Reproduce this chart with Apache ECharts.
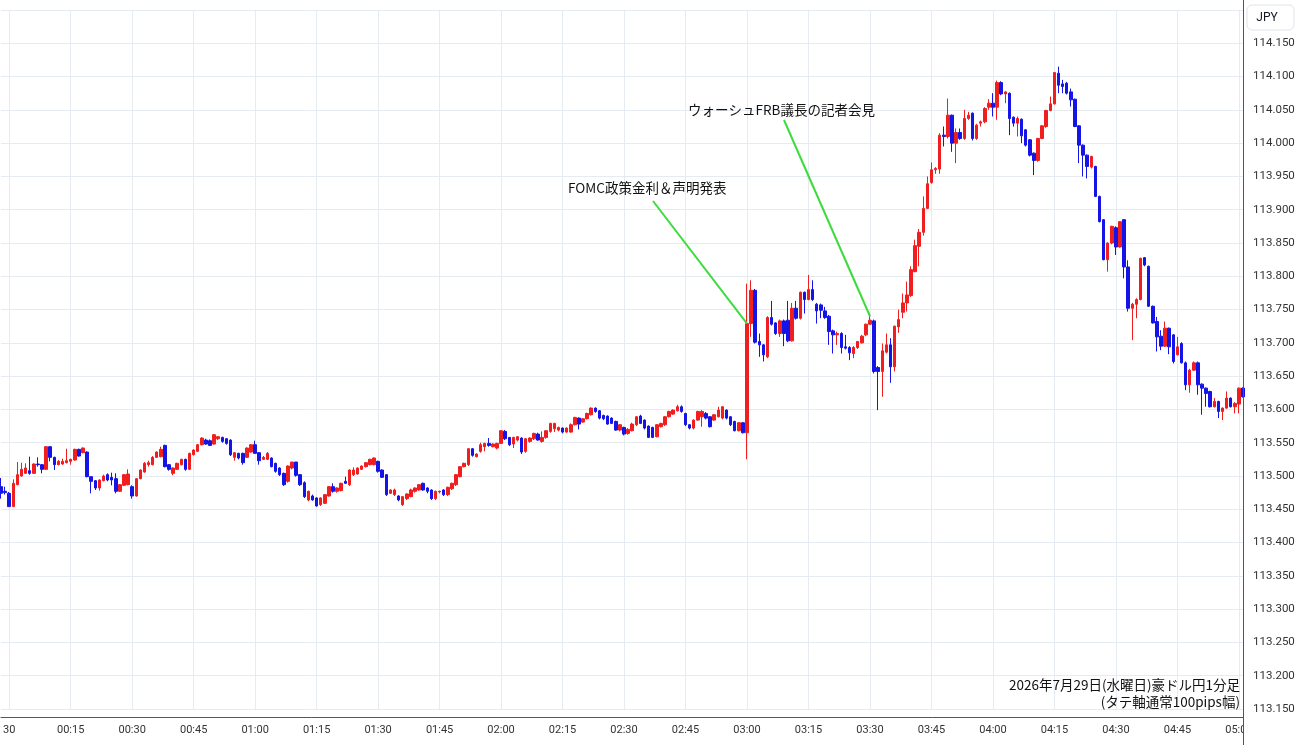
<!DOCTYPE html>
<html>
<head>
<meta charset="utf-8">
<script src="https://cdn.jsdelivr.net/npm/echarts@6/dist/echarts.min.js"></script>
<style>
  html, body { margin: 0; padding: 0; background: #fff; }
  #chart { width: 1300px; height: 745px; }
</style>
</head>
<body>
<div id="chart"></div>
<script>
// 1-minute AUD/JPY candles, 23:58 .. 05:01 (one value per minute)
const opens = [
  113.484, 113.477, 113.474, 113.454, 113.487, 113.500, 113.504, 113.508, 113.504, 113.518,
  113.517, 113.510, 113.544, 113.528, 113.517, 113.518, 113.520, 113.522, 113.524, 113.540,
  113.535, 113.536, 113.499, 113.493, 113.482, 113.493, 113.502, 113.498, 113.496, 113.477,
  113.486, 113.487, 113.484, 113.470, 113.496, 113.506, 113.517, 113.517, 113.528, 113.529,
  113.546, 113.517, 113.504, 113.510, 113.517, 113.525, 113.510, 113.532, 113.537, 113.547,
  113.554, 113.553, 113.548, 113.556, 113.558, 113.556, 113.554, 113.528, 113.534, 113.534,
  113.528, 113.536, 113.547, 113.535, 113.525, 113.525, 113.527, 113.519, 113.512, 113.504,
  113.492, 113.512, 113.521, 113.502, 113.490, 113.464, 113.470, 113.467, 113.457, 113.459,
  113.470, 113.484, 113.477, 113.478, 113.492, 113.487, 113.502, 113.503, 113.510, 113.514,
  113.517, 113.517, 113.522, 113.509, 113.502, 113.474, 113.472, 113.470, 113.457, 113.466,
  113.469, 113.477, 113.479, 113.489, 113.482, 113.479, 113.466, 113.476, 113.479, 113.472,
  113.481, 113.487, 113.499, 113.514, 113.517, 113.541, 113.529, 113.537, 113.544, 113.549,
  113.544, 113.542, 113.549, 113.567, 113.558, 113.548, 113.554, 113.557, 113.537, 113.552,
  113.556, 113.563, 113.552, 113.558, 113.567, 113.571, 113.569, 113.572, 113.566, 113.566,
  113.577, 113.587, 113.581, 113.586, 113.592, 113.602, 113.598, 113.591, 113.590, 113.587,
  113.582, 113.569, 113.573, 113.564, 113.568, 113.577, 113.590, 113.584, 113.575, 113.573,
  113.559, 113.574, 113.577, 113.589, 113.593, 113.598, 113.604, 113.594, 113.577, 113.572,
  113.584, 113.589, 113.594, 113.589, 113.584, 113.589, 113.587, 113.599, 113.589, 113.582,
  113.568, 113.580, 113.565, 113.729, 113.779, 113.702, 113.697, 113.679, 113.738, 113.730,
  113.714, 113.733, 113.734, 113.703, 113.752, 113.737, 113.776, 113.765, 113.780, 113.758,
  113.757, 113.748, 113.740, 113.718, 113.712, 113.714, 113.694, 113.693, 113.684, 113.693,
  113.700, 113.712, 113.728, 113.733, 113.663, 113.657, 113.686, 113.697, 113.664, 113.724,
  113.746, 113.760, 113.771, 113.807, 113.845, 113.866, 113.902, 113.941, 113.960, 113.961,
  114.012, 114.010, 114.042, 114.000, 114.016, 114.007, 114.037, 114.045, 114.007, 114.030,
  114.032, 114.054, 114.060, 114.054, 114.091, 114.074, 114.075, 114.039, 114.030, 114.036,
  114.020, 114.005, 113.985, 113.974, 114.007, 114.025, 114.049, 114.059, 114.105, 114.089,
  114.090, 114.077, 114.066, 114.026, 113.997, 113.982, 113.964, 113.965, 113.920, 113.885,
  113.825, 113.850, 113.873, 113.844, 113.885, 113.814, 113.752, 113.758, 113.765, 113.828,
  113.815, 113.755, 113.732, 113.710, 113.695, 113.722, 113.712, 113.682, 113.699, 113.670,
  113.637, 113.659, 113.670, 113.638, 113.632, 113.627, 113.604, 113.612, 113.597, 113.602,
  113.617, 113.604, 113.608, 113.632
];
const highs = [
  113.497, 113.484, 113.476, 113.495, 113.521, 113.520, 113.519, 113.529, 113.519, 113.528,
  113.518, 113.545, 113.545, 113.529, 113.524, 113.526, 113.541, 113.526, 113.541, 113.541,
  113.543, 113.537, 113.499, 113.494, 113.495, 113.502, 113.504, 113.505, 113.504, 113.488,
  113.503, 113.510, 113.486, 113.497, 113.510, 113.521, 113.523, 113.530, 113.537, 113.544,
  113.547, 113.518, 113.513, 113.520, 113.526, 113.526, 113.535, 113.540, 113.548, 113.558,
  113.556, 113.555, 113.563, 113.560, 113.559, 113.557, 113.555, 113.536, 113.535, 113.535,
  113.543, 113.548, 113.553, 113.536, 113.530, 113.536, 113.528, 113.520, 113.513, 113.505,
  113.516, 113.521, 113.521, 113.503, 113.492, 113.478, 113.472, 113.468, 113.468, 113.473,
  113.485, 113.489, 113.483, 113.490, 113.499, 113.510, 113.513, 113.513, 113.516, 113.521,
  113.526, 113.528, 113.523, 113.510, 113.503, 113.480, 113.481, 113.471, 113.470, 113.474,
  113.481, 113.483, 113.488, 113.490, 113.483, 113.480, 113.478, 113.478, 113.480, 113.484,
  113.490, 113.503, 113.515, 113.520, 113.542, 113.542, 113.534, 113.550, 113.550, 113.557,
  113.549, 113.550, 113.569, 113.569, 113.558, 113.559, 113.560, 113.558, 113.557, 113.558,
  113.565, 113.565, 113.567, 113.569, 113.580, 113.580, 113.574, 113.573, 113.573, 113.579,
  113.589, 113.588, 113.587, 113.595, 113.603, 113.603, 113.599, 113.592, 113.591, 113.588,
  113.583, 113.578, 113.574, 113.572, 113.580, 113.590, 113.592, 113.585, 113.576, 113.574,
  113.578, 113.580, 113.590, 113.598, 113.600, 113.607, 113.606, 113.595, 113.578, 113.585,
  113.598, 113.599, 113.596, 113.590, 113.593, 113.604, 113.605, 113.600, 113.590, 113.583,
  113.581, 113.581, 113.789, 113.794, 113.781, 113.714, 113.698, 113.740, 113.763, 113.731,
  113.735, 113.735, 113.763, 113.760, 113.763, 113.777, 113.777, 113.802, 113.794, 113.760,
  113.759, 113.754, 113.742, 113.720, 113.717, 113.716, 113.712, 113.695, 113.695, 113.703,
  113.712, 113.729, 113.745, 113.735, 113.665, 113.699, 113.714, 113.707, 113.726, 113.750,
  113.774, 113.792, 113.815, 113.855, 113.871, 113.920, 113.950, 113.971, 113.964, 114.015,
  114.025, 114.067, 114.043, 114.022, 114.022, 114.050, 114.047, 114.046, 114.029, 114.034,
  114.054, 114.066, 114.075, 114.094, 114.093, 114.078, 114.076, 114.040, 114.040, 114.037,
  114.021, 114.006, 113.986, 114.008, 114.027, 114.050, 114.070, 114.107, 114.115, 114.095,
  114.092, 114.082, 114.067, 114.027, 113.998, 113.983, 113.981, 113.966, 113.921, 113.886,
  113.851, 113.876, 113.875, 113.883, 113.886, 113.824, 113.760, 113.767, 113.828, 113.829,
  113.816, 113.756, 113.739, 113.719, 113.732, 113.723, 113.713, 113.709, 113.701, 113.672,
  113.661, 113.672, 113.672, 113.639, 113.633, 113.628, 113.617, 113.613, 113.603, 113.627,
  113.618, 113.611, 113.633, 113.633
];
const lows = [
  113.466, 113.472, 113.454, 113.454, 113.486, 113.499, 113.503, 113.502, 113.503, 113.514,
  113.504, 113.509, 113.522, 113.509, 113.516, 113.517, 113.519, 113.517, 113.523, 113.529,
  113.534, 113.498, 113.474, 113.479, 113.478, 113.492, 113.492, 113.486, 113.474, 113.476,
  113.485, 113.486, 113.466, 113.469, 113.495, 113.505, 113.514, 113.516, 113.527, 113.528,
  113.513, 113.508, 113.501, 113.509, 113.516, 113.508, 113.509, 113.531, 113.536, 113.546,
  113.547, 113.545, 113.547, 113.554, 113.550, 113.547, 113.530, 113.523, 113.525, 113.517,
  113.527, 113.535, 113.533, 113.517, 113.524, 113.524, 113.513, 113.505, 113.500, 113.485,
  113.490, 113.510, 113.499, 113.485, 113.467, 113.462, 113.463, 113.454, 113.455, 113.458,
  113.469, 113.475, 113.475, 113.477, 113.488, 113.485, 113.500, 113.502, 113.509, 113.513,
  113.516, 113.516, 113.505, 113.497, 113.470, 113.473, 113.470, 113.462, 113.455, 113.464,
  113.468, 113.475, 113.478, 113.478, 113.474, 113.464, 113.464, 113.474, 113.470, 113.470,
  113.479, 113.485, 113.498, 113.513, 113.515, 113.529, 113.528, 113.535, 113.537, 113.544,
  113.543, 113.540, 113.548, 113.554, 113.545, 113.542, 113.552, 113.533, 113.535, 113.550,
  113.554, 113.553, 113.550, 113.556, 113.565, 113.566, 113.567, 113.564, 113.565, 113.565,
  113.576, 113.570, 113.580, 113.585, 113.591, 113.595, 113.585, 113.584, 113.577, 113.578,
  113.568, 113.567, 113.561, 113.562, 113.567, 113.575, 113.578, 113.570, 113.557, 113.557,
  113.558, 113.573, 113.575, 113.588, 113.592, 113.597, 113.595, 113.575, 113.570, 113.570,
  113.583, 113.574, 113.585, 113.573, 113.583, 113.588, 113.585, 113.585, 113.575, 113.567,
  113.567, 113.564, 113.525, 113.709, 113.699, 113.679, 113.672, 113.677, 113.726, 113.712,
  113.709, 113.695, 113.701, 113.702, 113.735, 113.735, 113.744, 113.764, 113.763, 113.729,
  113.737, 113.736, 113.697, 113.684, 113.697, 113.684, 113.690, 113.674, 113.677, 113.691,
  113.699, 113.710, 113.727, 113.654, 113.599, 113.619, 113.684, 113.640, 113.657, 113.715,
  113.737, 113.747, 113.769, 113.806, 113.815, 113.861, 113.901, 113.939, 113.954, 113.954,
  113.995, 114.007, 113.987, 113.970, 114.005, 114.005, 114.035, 114.004, 114.005, 114.025,
  114.030, 114.050, 114.040, 114.035, 114.072, 114.060, 114.012, 114.025, 114.010, 114.000,
  113.995, 113.980, 113.952, 113.972, 114.006, 114.023, 114.048, 114.058, 114.075, 114.075,
  114.073, 114.055, 114.024, 113.970, 113.950, 113.947, 113.962, 113.919, 113.881, 113.824,
  113.807, 113.848, 113.832, 113.843, 113.797, 113.747, 113.704, 113.737, 113.764, 113.815,
  113.754, 113.729, 113.687, 113.689, 113.694, 113.683, 113.669, 113.681, 113.669, 113.629,
  113.625, 113.658, 113.622, 113.592, 113.604, 113.603, 113.603, 113.587, 113.584, 113.601,
  113.603, 113.594, 113.594, 113.618
];
const closes = [
  113.474, 113.475, 113.454, 113.489, 113.502, 113.510, 113.512, 113.504, 113.518, 113.517,
  113.510, 113.544, 113.528, 113.517, 113.522, 113.522, 113.523, 113.525, 113.540, 113.530,
  113.542, 113.499, 113.492, 113.482, 113.494, 113.500, 113.494, 113.494, 113.477, 113.487,
  113.502, 113.503, 113.470, 113.496, 113.509, 113.519, 113.520, 113.528, 113.536, 113.540,
  113.514, 113.510, 113.512, 113.519, 113.525, 113.510, 113.534, 113.539, 113.547, 113.557,
  113.548, 113.546, 113.562, 113.559, 113.552, 113.549, 113.532, 113.535, 113.527, 113.520,
  113.542, 113.547, 113.534, 113.523, 113.528, 113.534, 113.514, 113.507, 113.502, 113.487,
  113.515, 113.521, 113.501, 113.487, 113.469, 113.477, 113.464, 113.455, 113.467, 113.472,
  113.484, 113.477, 113.482, 113.489, 113.489, 113.509, 113.509, 113.512, 113.515, 113.520,
  113.525, 113.527, 113.507, 113.498, 113.472, 113.479, 113.479, 113.464, 113.469, 113.473,
  113.479, 113.482, 113.487, 113.479, 113.477, 113.466, 113.477, 113.477, 113.472, 113.483,
  113.489, 113.502, 113.514, 113.519, 113.541, 113.531, 113.533, 113.547, 113.549, 113.546,
  113.548, 113.549, 113.568, 113.556, 113.547, 113.558, 113.559, 113.536, 113.556, 113.557,
  113.564, 113.554, 113.558, 113.568, 113.579, 113.579, 113.573, 113.566, 113.572, 113.577,
  113.588, 113.578, 113.586, 113.594, 113.602, 113.597, 113.587, 113.586, 113.578, 113.579,
  113.569, 113.577, 113.563, 113.570, 113.578, 113.589, 113.579, 113.572, 113.558, 113.558,
  113.577, 113.579, 113.589, 113.597, 113.599, 113.604, 113.597, 113.577, 113.572, 113.584,
  113.597, 113.597, 113.587, 113.574, 113.592, 113.599, 113.604, 113.587, 113.577, 113.568,
  113.580, 113.565, 113.729, 113.779, 113.701, 113.697, 113.682, 113.738, 113.728, 113.714,
  113.733, 113.714, 113.703, 113.752, 113.737, 113.776, 113.765, 113.780, 113.765, 113.748,
  113.749, 113.738, 113.717, 113.712, 113.714, 113.693, 113.692, 113.685, 113.693, 113.702,
  113.710, 113.728, 113.734, 113.657, 113.657, 113.688, 113.697, 113.664, 113.725, 113.735,
  113.760, 113.772, 113.810, 113.846, 113.866, 113.902, 113.939, 113.960, 113.962, 114.012,
  114.010, 114.042, 114.000, 114.016, 114.007, 114.037, 114.042, 114.007, 114.027, 114.032,
  114.052, 114.060, 114.054, 114.091, 114.074, 114.077, 114.037, 114.030, 114.037, 114.011,
  113.997, 113.982, 113.974, 114.007, 114.026, 114.049, 114.059, 114.106, 114.087, 114.085,
  114.075, 114.065, 114.025, 113.997, 113.982, 113.965, 113.980, 113.920, 113.882, 113.825,
  113.850, 113.875, 113.844, 113.882, 113.814, 113.752, 113.758, 113.765, 113.827, 113.817,
  113.755, 113.730, 113.709, 113.695, 113.722, 113.694, 113.672, 113.694, 113.670, 113.637,
  113.659, 113.670, 113.637, 113.632, 113.624, 113.604, 113.612, 113.597, 113.602, 113.617,
  113.604, 113.609, 113.632, 113.619
];

// time axis: every 15 minutes
const tickTimes = ['00:00', '00:15', '00:30', '00:45', '01:00', '01:15', '01:30', '01:45',
  '02:00', '02:15', '02:30', '02:45', '03:00', '03:15', '03:30', '03:45',
  '04:00', '04:15', '04:30', '04:45', '05:00'];
const tickLabels = ['30', '00:15', '00:30', '00:45', '01:00', '01:15', '01:30', '01:45',
  '02:00', '02:15', '02:30', '02:45', '03:00', '03:15', '03:30', '03:45',
  '04:00', '04:15', '04:30', '04:45', '05:00'];

const times = [];
for (let i = 0; i < opens.length; i++) {
  const m = (23 * 60 + 58 + i) % 1440;
  times.push(String(Math.floor(m / 60)).padStart(2, '0') + ':' + String(m % 60).padStart(2, '0'));
}
const candles = opens.map((o, i) => [o, closes[i], lows[i], highs[i]]);

const RED = '#f01e1e';
const BLUE = '#1414e6';
const GRID = '#e6ebf1';
const JP = '"Noto Sans CJK JP", sans-serif';

const isTick = (idx) => tickTimes.indexOf(times[idx]) >= 0;

const chart = echarts.init(document.getElementById('chart'));
chart.setOption({
  animation: false,
  backgroundColor: '#fff',
  grid: { left: 0.8, right: 57, top: 10, bottom: 36 },
  xAxis: {
    type: 'category',
    data: times,
    boundaryGap: false,
    offset: 8,
    axisLine: { lineStyle: { color: '#555', width: 1 } },
    axisTick: { show: false },
    axisLabel: {
      interval: isTick,
      formatter: (v) => {
        const k = tickTimes.indexOf(v);
        return k >= 0 ? tickLabels[k] : '';
      },
      color: '#333',
      fontSize: 11,
      fontFamily: 'Roboto, sans-serif',
      margin: 8,
      hideOverlap: false
    },
    splitLine: { show: true, interval: isTick, lineStyle: { color: GRID, width: 1 } }
  },
  yAxis: {
    type: 'value',
    position: 'right',
    min: 113.15,
    max: 114.2,
    interval: 0.05,
    axisLine: { show: true, lineStyle: { color: '#555', width: 1 } },
    axisTick: { show: false },
    axisLabel: {
      formatter: (v) => (v > 114.19 ? '' : v.toFixed(3)),
      color: '#333',
      fontSize: 11.5,
      fontFamily: 'Roboto, sans-serif',
      margin: 10
    },
    splitLine: { show: true, lineStyle: { color: GRID, width: 1 } }
  },
  series: [{
    type: 'candlestick',
    data: candles,
    barWidth: 3,
    itemStyle: {
      color: RED, color0: BLUE,
      borderColor: RED, borderColor0: BLUE,
      borderWidth: 1
    },
    emphasis: { disabled: true },
    markLine: {
      silent: true,
      symbol: 'none',
      label: { show: false },
      lineStyle: { color: '#3cdc3c', width: 2, type: 'solid' },
      emphasis: { disabled: true },
      data: [
        [{ x: 653, y: 201 }, { coord: ['03:00', 113.729] }],
        [{ x: 784, y: 120 }, { coord: ['03:30', 113.740] }]
      ]
    }
  }],
  graphic: [
    { type: 'text', x: 568, y: 188, z: 50,
      style: { text: 'FOMC政策金利＆声明発表', fontSize: 13.5, fontFamily: JP, fill: '#111',
               align: 'left', verticalAlign: 'middle' } },
    { type: 'text', x: 688, y: 110, z: 50,
      style: { text: 'ウォーシュFRB議長の記者会見', fontSize: 13.5, fontFamily: JP, fill: '#111',
               align: 'left', verticalAlign: 'middle' } },
    { type: 'text', x: 1240, y: 685, z: 50,
      style: { text: '2026年7月29日(水曜日)豪ドル円1分足', fontSize: 13.5, fontFamily: JP, fill: '#111',
               align: 'right', verticalAlign: 'middle' } },
    { type: 'text', x: 1240, y: 701.5, z: 50,
      style: { text: '(タテ軸通常100pips幅)', fontSize: 13.5, fontFamily: JP, fill: '#111',
               align: 'right', verticalAlign: 'middle' } },
    // price-scale panel: hides the clipped last time label, full-height border
    { type: 'rect', z: 100, shape: { x: 1244, y: 719, width: 56, height: 26 },
      style: { fill: '#fff' } },
    { type: 'line', z: 101, shape: { x1: 1243.5, y1: 0, x2: 1243.5, y2: 745 },
      style: { stroke: '#555', lineWidth: 1 } },
    { type: 'rect', z: 101, shape: { x: 1247, y: 5, width: 47, height: 25, r: 5 },
      style: { fill: '#fff', stroke: '#e0e3eb', lineWidth: 1 } },
    { type: 'text', x: 1267, y: 18, z: 102,
      style: { text: 'JPY', fontSize: 12, fontFamily: 'Roboto, sans-serif', fill: '#131722',
               align: 'center', verticalAlign: 'middle' } }
  ]
});
</script>
</body>
</html>
